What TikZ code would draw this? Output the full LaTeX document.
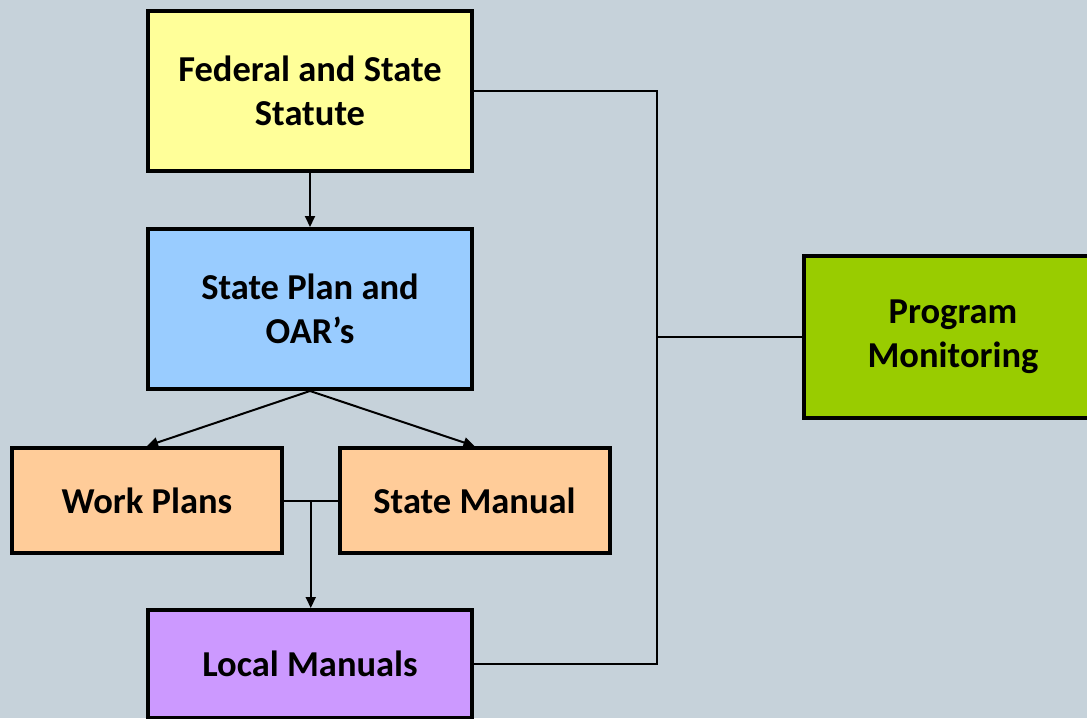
\documentclass[tikz,border=0pt]{standalone}
\usepackage{fontspec}
\setmainfont{Carlito}
\usetikzlibrary{arrows.meta}

\definecolor{bggray}{RGB}{198,210,218}
\definecolor{statuteyellow}{RGB}{255,255,153}
\definecolor{planblue}{RGB}{153,204,255}
\definecolor{manualpeach}{RGB}{255,204,153}
\definecolor{localpurple}{RGB}{204,153,255}
\definecolor{monitorgreen}{RGB}{153,204,0}

\begin{document}
\begin{tikzpicture}[
  x=1pt, y=-1pt,
  every node/.style={draw, rectangle, line width=4pt, align=center, inner sep=0pt,
    font=\fontsize{36.5}{44}\selectfont\bfseries},
  bigbox/.style={minimum width=324pt, minimum height=160pt},
  smallbox/.style={minimum width=270pt, minimum height=105pt},
  arrow/.style={-{Triangle[length=11pt,width=10pt]}, line width=2pt},
  link/.style={line width=2pt}
]
\fill[bggray] (0,0) rectangle (1087,718);
\useasboundingbox (0,0) rectangle (1087,718);

\node[bigbox, fill=statuteyellow] (fed) at (310,91) {Federal and State\\Statute};
\node[bigbox, fill=planblue] (plan) at (310,309) {State Plan and\\OAR’s};
\node[smallbox, fill=manualpeach] (work) at (147,500.5) {Work Plans};
\node[smallbox, fill=manualpeach] (manual) at (474.5,500.5) {State Manual};
\node[bigbox, minimum height=108pt, fill=localpurple] (local) at (310,664) {Local Manuals};
\node[bigbox, minimum width=298pt, minimum height=162pt, fill=monitorgreen] (monitor) at (953,337) {Program\\Monitoring};

\coordinate (bus) at (657,337);

\draw[arrow] (fed.south) -- (plan.north);
\draw[arrow] (plan.south) -- (work.north);
\draw[arrow] (plan.south) -- (manual.north);
\draw[link] (work.east) -- coordinate (join) (manual.west);
\draw[arrow] (join) -- (join |- local.north);
\draw[link] (fed.east) -| (bus) |- (local.east);
\draw[link] (monitor.west) -- (bus);
\end{tikzpicture}
\end{document}
